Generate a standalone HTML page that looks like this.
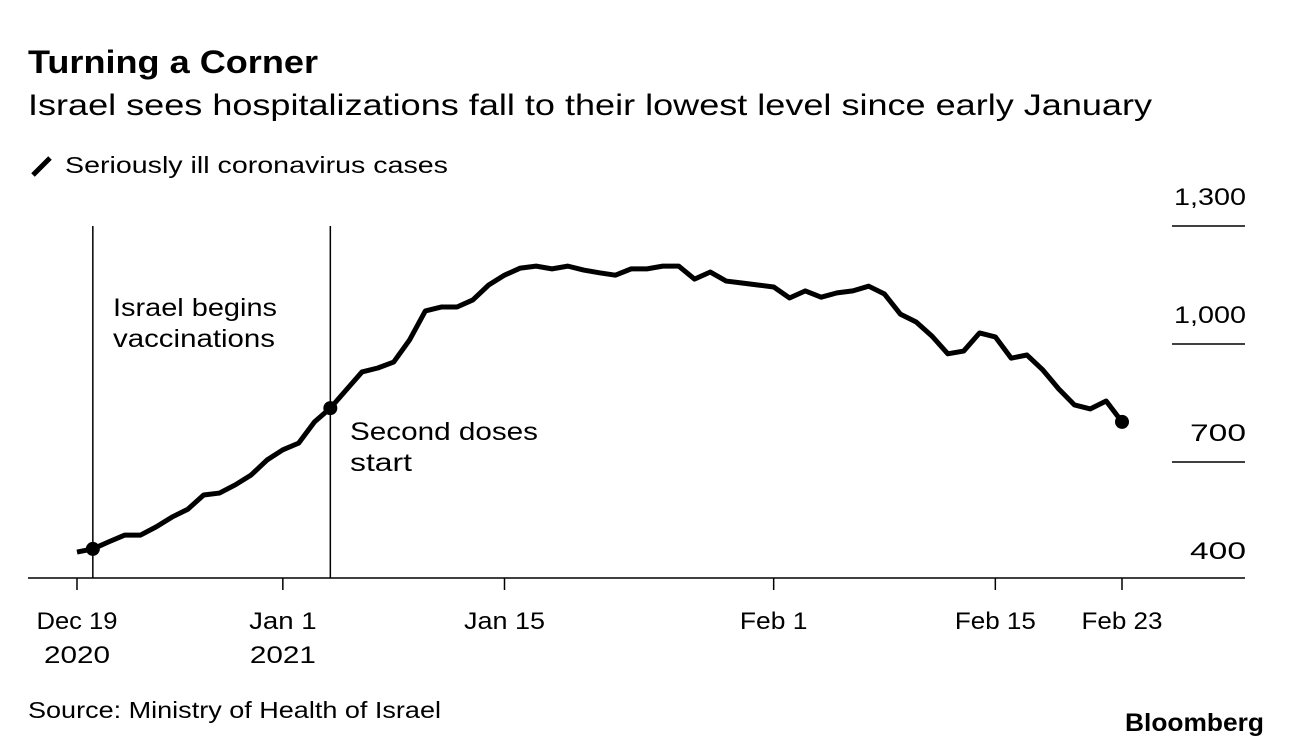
<!DOCTYPE html>
<html><head><meta charset="utf-8"><style>
body{margin:0;background:#fff;font-family:"Liberation Sans",sans-serif;}
</style></head><body>
<svg width="1292" height="748" xmlns="http://www.w3.org/2000/svg" font-family="Liberation Sans, sans-serif" id="chart">
<text x="28" y="73" font-size="32" font-weight="bold" fill="#000" textLength="290" lengthAdjust="spacingAndGlyphs">Turning a Corner</text>
<text x="28" y="115" font-size="30" fill="#000" textLength="1124" lengthAdjust="spacingAndGlyphs">Israel sees hospitalizations fall to their lowest level since early January</text>
<line x1="33" y1="175" x2="50" y2="158" stroke="#000" stroke-width="5"/>
<text x="65" y="173" font-size="23" textLength="383" lengthAdjust="spacingAndGlyphs">Seriously ill coronavirus cases</text>
<g id="yaxis"></g>
<g id="xaxis"></g>
<line x1="28" y1="578" x2="1245" y2="578" stroke="#000" stroke-width="1.5"/>
<g id="annos"></g>
<path id="line" fill="none" stroke="#000" stroke-width="5" stroke-linejoin="round"/>
<text x="28" y="718" font-size="23" textLength="413" lengthAdjust="spacingAndGlyphs">Source: Ministry of Health of Israel</text>
<text x="1125" y="731" font-size="25" font-weight="bold" textLength="139" lengthAdjust="spacingAndGlyphs">Bloomberg</text>
</svg>
<script>
const values=[471,479,497,514,514,535,560,580,616,621,642,667,705,731,748,802,837,883,929,939,954,1010,1084,1094,1094,1112,1150,1175,1193,1198,1191,1198,1188,1181,1175,1191,1191,1198,1198,1165,1183,1160,1155,1150,1145,1117,1135,1119,1130,1135,1147,1127,1076,1056,1020,975,982,1028,1018,964,972,934,886,845,835,855,802];
const yTicks=[400,700,1000,1300];
const yTickLabels=["400","700","1,000","1,300"];
const xTickDays=[0,13,27,44,58,66];
const xTickLabels=[["Dec 19","2020"],["Jan 1","2021"],["Jan 15"],["Feb 1"],["Feb 15"],["Feb 23"]];
const annoDays=[1,16];
const annoLabels=[["Israel begins","vaccinations"],["Second doses","start"]];
const NS="http://www.w3.org/2000/svg";
const x=d=>77+d*(1122-77)/66;
const y=v=>580-(v-400)*354/900;
function mk(t,a,p){const e=document.createElementNS(NS,t);for(const k in a)e.setAttribute(k,a[k]);p.appendChild(e);return e;}
function fit(t,w){t.setAttribute('textLength',w);t.setAttribute('lengthAdjust','spacingAndGlyphs');}
const ya=document.getElementById('yaxis');
yTicks.forEach((v,i)=>{
 if(v>400){const l=mk('line',{x1:1172,x2:1245,y1:y(v),y2:y(v),stroke:'#000','stroke-width':1.5},ya);
 
 }
 const t=mk('text',{x:1246,y:y(v)-21,'font-size':24,'text-anchor':'end'},ya);t.textContent=yTickLabels[i];
 fit(t,yTickLabels[i].length>3?72:56);
 
 
});
const xa=document.getElementById('xaxis');
xTickDays.forEach((d,i)=>{
 const l=mk('line',{x1:x(d),x2:x(d),y1:578,y2:590,stroke:'#000','stroke-width':1.5},xa);
 
 
 xTickLabels[i].forEach((s,j)=>{const t=mk('text',{x:x(d),y:629+j*34,'font-size':24,'text-anchor':'middle'},xa);t.textContent=s;
 fit(t,j==1?66:s.length*13.5);
 
 });
});
const annoWidths=[[164,162],[188,62]];
const an=document.getElementById('annos');
annoDays.forEach((d,i)=>{
 const l=mk('line',{x1:x(d),x2:x(d),y1:226,y2:578,stroke:'#000','stroke-width':1.5},an);
 
 
 const ty=i==0?316:440;const tx=i==0?113:350;
 annoLabels[i].forEach((s,j)=>{const t=mk('text',{x:tx,y:ty+j*31,'font-size':25},an);t.textContent=s;
 fit(t,annoWidths[i][j]);
 
 });
});
document.getElementById('line').setAttribute('d',values.map((v,i)=>(i?'L':'M')+x(i)+','+y(v)).join(''));
const svg=document.getElementById('chart');
[1,16,66].forEach(d=>{const c=mk('circle',{cx:x(d),cy:y(values[d]),r:7,fill:'#000'},svg);
 
 });
</script>
</body></html>
